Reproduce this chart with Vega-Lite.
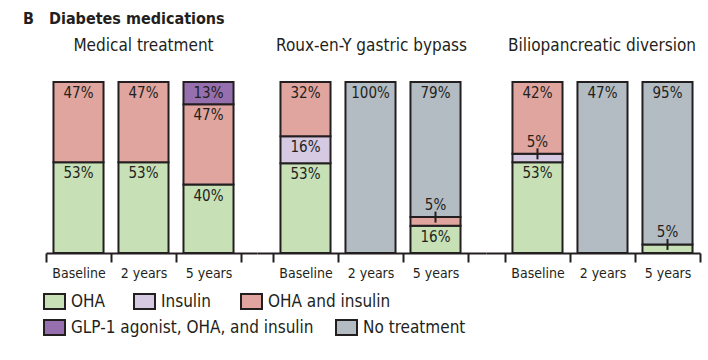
{
  "$schema": "https://vega.github.io/schema/vega-lite/v6.json",
  "padding": {"left": 23, "top": 11, "right": 4, "bottom": 4},
  "title": {"text": "B\u00a0\u00a0\u00a0Diabetes medications", "anchor": "start", "frame": "group", "dx": -23, "fontSize": 16, "fontWeight": "bold", "offset": 10},
  "datasets": {
    "d": [
      {"group": "Medical treatment", "time": "Baseline", "category": "OHA", "k": 1, "value": 53, "label": "53%"},
      {"group": "Medical treatment", "time": "Baseline", "category": "OHA and insulin", "k": 3, "value": 47, "label": "47%"},
      {"group": "Medical treatment", "time": "2 years", "category": "OHA", "k": 1, "value": 53, "label": "53%"},
      {"group": "Medical treatment", "time": "2 years", "category": "OHA and insulin", "k": 3, "value": 47, "label": "47%"},
      {"group": "Medical treatment", "time": "5 years", "category": "OHA", "k": 1, "value": 40, "label": "40%"},
      {"group": "Medical treatment", "time": "5 years", "category": "OHA and insulin", "k": 3, "value": 47, "label": "47%"},
      {"group": "Medical treatment", "time": "5 years", "category": "GLP-1 agonist, OHA, and insulin", "k": 4, "value": 13, "label": "13%"},
      {"group": "Roux-en-Y gastric bypass", "time": "Baseline", "category": "OHA", "k": 1, "value": 53, "label": "53%"},
      {"group": "Roux-en-Y gastric bypass", "time": "Baseline", "category": "Insulin", "k": 2, "value": 16, "label": "16%"},
      {"group": "Roux-en-Y gastric bypass", "time": "Baseline", "category": "OHA and insulin", "k": 3, "value": 32, "label": "32%"},
      {"group": "Roux-en-Y gastric bypass", "time": "2 years", "category": "No treatment", "k": 5, "value": 100, "label": "100%"},
      {"group": "Roux-en-Y gastric bypass", "time": "5 years", "category": "OHA", "k": 1, "value": 16, "label": "16%"},
      {"group": "Roux-en-Y gastric bypass", "time": "5 years", "category": "OHA and insulin", "k": 3, "value": 5, "label": "5%"},
      {"group": "Roux-en-Y gastric bypass", "time": "5 years", "category": "No treatment", "k": 5, "value": 79, "label": "79%"},
      {"group": "Biliopancreatic diversion", "time": "Baseline", "category": "OHA", "k": 1, "value": 53, "label": "53%"},
      {"group": "Biliopancreatic diversion", "time": "Baseline", "category": "Insulin", "k": 2, "value": 5, "label": "5%"},
      {"group": "Biliopancreatic diversion", "time": "Baseline", "category": "OHA and insulin", "k": 3, "value": 42, "label": "42%"},
      {"group": "Biliopancreatic diversion", "time": "2 years", "category": "No treatment", "k": 5, "value": 100, "label": "47%"},
      {"group": "Biliopancreatic diversion", "time": "5 years", "category": "OHA", "k": 1, "value": 5, "label": "5%"},
      {"group": "Biliopancreatic diversion", "time": "5 years", "category": "No treatment", "k": 5, "value": 95, "label": "95%"}
    ]
  },
  "data": {"name": "d"},
  "spacing": 0,
  "bounds": "flush",
  "hconcat": [
    {
      "title": {"text": "Medical treatment", "dx": -8},
      "width": 211, "height": 171,
      "transform": [
        {"filter": "datum.group == 'Medical treatment'"},
        {"stack": "value", "groupby": ["time"], "sort": [{"field": "k"}], "offset": "normalize", "as": ["v0", "v1"]}
      ],
      "encoding": {"x": {"field": "time", "type": "nominal", "sort": ["Baseline", "2 years", "5 years"], "scale": {"paddingInner": 0, "paddingOuter": 0.1231, "align": 0}, "axis": {"title": null, "labelAngle": 0}}},
      "layer": [
        {"transform": [{"filter": "datum.k <= 3"}],
         "mark": {"type": "bar", "width": {"band": 0.77}, "stroke": "#231f20", "strokeWidth": 2},
         "encoding": {
           "y": {"field": "v0", "type": "quantitative", "scale": {"domain": [0, 1]}, "axis": null},
           "y2": {"field": "v1"},
           "fill": {"field": "category", "type": "nominal",
             "scale": {"domain": ["OHA", "Insulin", "OHA and insulin"], "range": ["#c7e0b6", "#d6c9e2", "#e0a59f"]},
             "legend": {"title": null, "orient": "none", "legendX": 0, "legendY": 211, "direction": "horizontal", "symbolType": "M-1.4,-1H1.4V1H-1.4Z", "symbolSize": 225, "symbolStrokeColor": "#231f20", "symbolStrokeWidth": 2, "labelFontSize": 17, "labelOffset": 8, "columnPadding": 25, "labelColor": "#231f20", "labelLimit": 400}}
         }},
        {"transform": [{"filter": "datum.k > 3"}],
         "mark": {"type": "bar", "width": {"band": 0.77}, "stroke": "#231f20", "strokeWidth": 2},
         "encoding": {
           "y": {"field": "v0", "type": "quantitative", "scale": {"domain": [0, 1]}, "axis": null},
           "y2": {"field": "v1"},
           "color": {"field": "category", "type": "nominal",
             "scale": {"domain": ["GLP-1 agonist, OHA, and insulin", "No treatment"], "range": ["#956fae", "#b3bcc3"]},
             "legend": {"title": null, "orient": "none", "legendX": 0, "legendY": 237, "direction": "horizontal", "symbolType": "M-1.4,-1H1.4V1H-1.4Z", "symbolSize": 225, "symbolStrokeColor": "#231f20", "symbolStrokeWidth": 2, "labelFontSize": 17, "labelOffset": 8, "columnPadding": 18, "labelColor": "#231f20", "labelLimit": 400}}
         }},
        {"transform": [{"filter": "datum.value >= 10"}], "mark": {"type": "text", "dy": 11, "baseline": "middle"},
         "encoding": {"y": {"field": "v1", "type": "quantitative"}, "text": {"field": "label"}}},
        {"transform": [{"filter": "datum.value < 10"}], "mark": {"type": "text", "dy": -12, "baseline": "middle"},
         "encoding": {"y": {"field": "v1", "type": "quantitative"}, "text": {"field": "label"}}},
        {"transform": [{"filter": "datum.value < 10"}], "mark": {"type": "tick", "orient": "vertical", "size": 11, "thickness": 2, "color": "#231f20", "opacity": 1},
         "encoding": {"y": {"field": "v1", "type": "quantitative"}}}
      ]
    },
    {
      "title": {"text": "Roux-en-Y gastric bypass", "dx": 0},
      "width": 229, "height": 171,
      "transform": [
        {"filter": "datum.group == 'Roux-en-Y gastric bypass'"},
        {"stack": "value", "groupby": ["time"], "sort": [{"field": "k"}], "offset": "normalize", "as": ["v0", "v1"]}
      ],
      "encoding": {"x": {"field": "time", "type": "nominal", "sort": ["Baseline", "2 years", "5 years"], "scale": {"paddingInner": 0, "paddingOuter": 0.2615, "align": 0.4706}, "axis": {"title": null, "labelAngle": 0}}},
      "layer": [
        {"transform": [{"filter": "datum.k <= 3"}],
         "mark": {"type": "bar", "width": {"band": 0.77}, "stroke": "#231f20", "strokeWidth": 2},
         "encoding": {
           "y": {"field": "v0", "type": "quantitative", "scale": {"domain": [0, 1]}, "axis": null},
           "y2": {"field": "v1"},
           "fill": {"field": "category", "type": "nominal"}
         }},
        {"transform": [{"filter": "datum.k > 3"}],
         "mark": {"type": "bar", "width": {"band": 0.77}, "stroke": "#231f20", "strokeWidth": 2},
         "encoding": {
           "y": {"field": "v0", "type": "quantitative", "scale": {"domain": [0, 1]}, "axis": null},
           "y2": {"field": "v1"},
           "color": {"field": "category", "type": "nominal"}
         }},
        {"transform": [{"filter": "datum.value >= 10"}], "mark": {"type": "text", "dy": 11, "baseline": "middle"},
         "encoding": {"y": {"field": "v1", "type": "quantitative"}, "text": {"field": "label"}}},
        {"transform": [{"filter": "datum.value < 10"}], "mark": {"type": "text", "dy": -12, "baseline": "middle"},
         "encoding": {"y": {"field": "v1", "type": "quantitative"}, "text": {"field": "label"}}},
        {"transform": [{"filter": "datum.value < 10"}], "mark": {"type": "tick", "orient": "vertical", "size": 11, "thickness": 2, "color": "#231f20", "opacity": 1},
         "encoding": {"y": {"field": "v1", "type": "quantitative"}}}
      ]
    },
    {
      "title": {"text": "Biliopancreatic diversion", "dx": 9},
      "width": 214, "height": 171,
      "transform": [
        {"filter": "datum.group == 'Biliopancreatic diversion'"},
        {"stack": "value", "groupby": ["time"], "sort": [{"field": "k"}], "offset": "normalize", "as": ["v0", "v1"]}
      ],
      "encoding": {"x": {"field": "time", "type": "nominal", "sort": ["Baseline", "2 years", "5 years"], "scale": {"paddingInner": 0, "paddingOuter": 0.146, "align": 1}, "axis": {"title": null, "labelAngle": 0}}},
      "layer": [
        {"transform": [{"filter": "datum.k <= 3"}],
         "mark": {"type": "bar", "width": {"band": 0.77}, "stroke": "#231f20", "strokeWidth": 2},
         "encoding": {
           "y": {"field": "v0", "type": "quantitative", "scale": {"domain": [0, 1]}, "axis": null},
           "y2": {"field": "v1"},
           "fill": {"field": "category", "type": "nominal"}
         }},
        {"transform": [{"filter": "datum.k > 3"}],
         "mark": {"type": "bar", "width": {"band": 0.77}, "stroke": "#231f20", "strokeWidth": 2},
         "encoding": {
           "y": {"field": "v0", "type": "quantitative", "scale": {"domain": [0, 1]}, "axis": null},
           "y2": {"field": "v1"},
           "color": {"field": "category", "type": "nominal"}
         }},
        {"transform": [{"filter": "datum.value >= 10"}], "mark": {"type": "text", "dy": 11, "baseline": "middle"},
         "encoding": {"y": {"field": "v1", "type": "quantitative"}, "text": {"field": "label"}}},
        {"transform": [{"filter": "datum.value < 10"}], "mark": {"type": "text", "dy": -12, "baseline": "middle"},
         "encoding": {"y": {"field": "v1", "type": "quantitative"}, "text": {"field": "label"}}},
        {"transform": [{"filter": "datum.value < 10"}], "mark": {"type": "tick", "orient": "vertical", "size": 11, "thickness": 2, "color": "#231f20", "opacity": 1},
         "encoding": {"y": {"field": "v1", "type": "quantitative"}}}
      ]
    }
  ],
  "config": {
    "font": "DejaVu Sans Condensed, DejaVu Sans",
    "view": {"stroke": null},
    "axis": {"labelFont": "DejaVu Sans Condensed, DejaVu Sans", "labelFontSize": 14, "labelColor": "#231f20", "domainColor": "#231f20", "domainWidth": 2, "tickColor": "#231f20", "tickWidth": 2, "tickSize": 9, "tickBand": "extent", "labelPadding": 4, "grid": false},
    "legend": {"labelFont": "DejaVu Sans Condensed, DejaVu Sans"},
    "text": {"font": "DejaVu Sans Condensed, DejaVu Sans", "fontSize": 15, "color": "#231f20"},
    "title": {"font": "DejaVu Sans Condensed, DejaVu Sans", "fontSize": 17, "fontWeight": "normal", "color": "#231f20", "offset": 26}
  }
}
